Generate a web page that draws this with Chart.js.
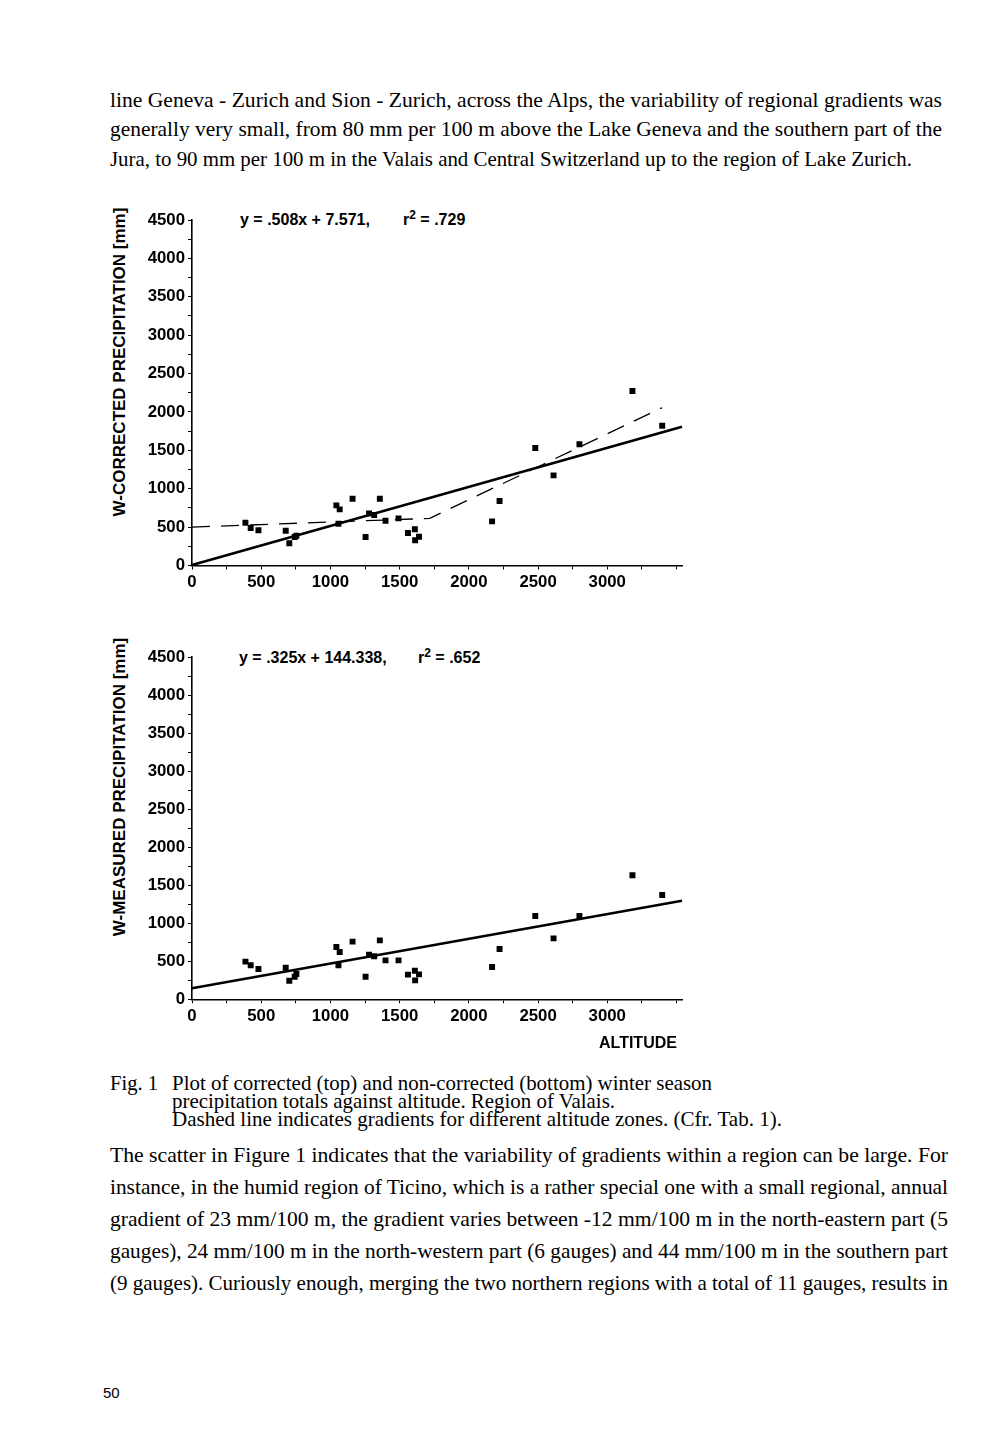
<!DOCTYPE html>
<html>
<head>
<meta charset="utf-8">
<script src="https://cdn.jsdelivr.net/npm/chart.js@4.4.1/dist/chart.umd.min.js"></script>
<style>
    html, body { margin: 0; padding: 0; background: #fff; }
    body { width: 1000px; height: 1453px; position: relative; overflow: hidden; color: #000; }
    .t { position: absolute; white-space: nowrap; font-family: "Liberation Serif", "Times New Roman", serif; font-size: 22px; line-height: 24px; transform-origin: 0 50%; }
    .s { position: absolute; white-space: nowrap; font-family: "Liberation Sans", Arial, sans-serif; font-size: 16px; line-height: 20px; font-weight: bold; }
    .ytitle { position: absolute; white-space: nowrap; font-family: "Liberation Sans", Arial, sans-serif; font-size: 17px; line-height: 20px; font-weight: bold; transform: translate(-50%, -50%) rotate(-90deg); }
    .sup { position: relative; top: -6px; font-size: 12px; }
    canvas { position: absolute; }
</style>
</head>
<body>

<div class="t" data-w="832" style="left:110px; top:88px">line Geneva - Zurich and Sion - Zurich, across the Alps, the variability of regional gradients was</div>
<div class="t" data-w="832" style="left:110px; top:117px">generally very small, from 80 mm per 100 m above the Lake Geneva and the southern part of the</div>
<div class="t" data-w="802" style="left:110px; top:147px">Jura, to 90 mm per 100 m in the Valais and Central Switzerland up to the region of Lake Zurich.</div>

<div class="ytitle" style="left:120px; top:362px">W-CORRECTED PRECIPITATION [mm]</div>
<div class="s" style="left:240px; top:210px">y = .508x + 7.571,</div>
<div class="s" style="left:403px; top:210px">r<span class="sup">2</span> = .729</div>
<canvas id="chartTop" width="600" height="420" style="left:100px; top:190px"></canvas>

<div class="ytitle" style="left:120px; top:787px">W-MEASURED PRECIPITATION [mm]</div>
<div class="s" style="left:239px; top:648px">y = .325x + 144.338,</div>
<div class="s" style="left:418px; top:648px">r<span class="sup">2</span> = .652</div>
<canvas id="chartBottom" width="600" height="420" style="left:100px; top:627px"></canvas>
<div class="s" style="left:599px; top:1033px">ALTITUDE</div>

<div class="t" data-w="48" style="left:110px; top:1071px">Fig. 1</div>
<div class="t" data-w="540" style="left:172px; top:1071px">Plot of corrected (top) and non-corrected (bottom) winter season</div>
<div class="t" data-w="443" style="left:172px; top:1089px">precipitation totals against altitude. Region of Valais.</div>
<div class="t" data-w="610" style="left:172px; top:1107px">Dashed line indicates gradients for different altitude zones. (Cfr. Tab. 1).</div>

<div class="t" data-w="838" style="left:110px; top:1143px">The scatter in Figure 1 indicates that the variability of gradients within a region can be large. For</div>
<div class="t" data-w="838" style="left:110px; top:1175px">instance, in the humid region of Ticino, which is a rather special one with a small regional, annual</div>
<div class="t" data-w="838" style="left:110px; top:1207px">gradient of 23 mm/100 m, the gradient varies between -12 mm/100 m in the north-eastern part (5</div>
<div class="t" data-w="838" style="left:110px; top:1239px">gauges), 24 mm/100 m in the north-western part (6 gauges) and 44 mm/100 m in the southern part</div>
<div class="t" data-w="838" style="left:110px; top:1271px">(9 gauges). Curiously enough, merging the two northern regions with a total of 11 gauges, results in</div>

<div class="s" style="left:103px; top:1383px; font-size:15px; font-weight:normal">50</div>

<script>
// gauge altitudes (m), shared by both plots
const altitude = [386, 424, 480, 677, 703, 742, 754, 1043, 1067, 1058, 1160, 1254, 1279, 1316,
    1357, 1398, 1492, 1560, 1610, 1612, 1640, 2168, 2222, 2480, 2612, 2799, 3182, 3397]

// winter precipitation (mm)
const correctedPrecip = [558, 488, 458, 453, 289, 371, 388, 783, 731, 545, 870, 371, 679, 658,
    870, 584, 614, 423, 471, 328, 375, 575, 840, 1530, 1174, 1578, 2272, 1821]
const measuredPrecip = [495, 447, 398, 416, 245, 297, 333, 688, 622, 447, 758, 297, 587, 565,
    775, 512, 512, 324, 376, 249, 328, 425, 661, 1095, 801, 1095, 1630, 1371]

// dashed line: gradients by altitude zone (top plot only)
const zoneAltitude = [0, 1717, 3396]
const zonePrecip = [500, 614, 2055]

// regression lines [slope, intercept]
const fitCorrected = [0.508, 7.571]
const fitMeasured = [0.325, 144.338]

const xTickLabels = [0, 500, 1000, 1500, 2000, 2500, 3000]
const yTickLabels = [0, 500, 1000, 1500, 2000, 2500, 3000, 3500, 4000, 4500]
const tickStep = 250
const xMax = 3540
const yMax = 4500

// squeeze each printed line to the width it has on the page (the scan's Times is narrow)
document.querySelectorAll('[data-w]').forEach((el) => {
    const target = +el.dataset.w
    const width = el.getBoundingClientRect().width
    el.style.transform = 'scaleX(' + (target / width) + ')'
})

Chart.defaults.font.family = '"Liberation Sans", Arial, sans-serif'
Chart.defaults.color = '#000'

function stepTicks(max) {
    return (scale) => {
        const ticks = []
        for (let v = 0; v <= max; v += tickStep) ticks.push({value: v})
        scale.ticks = ticks
    }
}

function axis(max, labels, fit) {
    return {
        type: 'linear',
        min: 0,
        max: max,
        afterBuildTicks: stepTicks(max),
        afterFit: fit,
        grid: {display: true, drawOnChartArea: false, drawTicks: true, tickLength: 4, color: '#000', lineWidth: 1},
        border: {display: true, color: '#000', width: 1.6},
        ticks: {
            autoSkip: false,
            maxRotation: 0,
            padding: 3,
            color: '#000',
            font: {size: 16.8, weight: 'bold'},
            callback: (v) => labels.includes(v) ? String(v) : '',
        },
    }
}

function renderChart(canvas, values, fit, xHeight, zones) {
    const datasets = [{
        data: altitude.map((a, i) => ({x: a, y: values[i]})),
        pointStyle: 'rect',
        pointRadius: 4.2,
        backgroundColor: '#000',
        borderWidth: 0,
        showLine: false,
    }, {
        data: [{x: 0, y: fit[1]}, {x: xMax, y: fit[0] * xMax + fit[1]}],
        showLine: true,
        borderColor: '#000',
        borderWidth: 2.6,
        pointRadius: 0,
        clip: false,
    }]

    if (zones) {
        datasets.push({
            data: zoneAltitude.map((a, i) => ({x: a, y: zonePrecip[i]})),
            showLine: true,
            borderColor: '#000',
            borderWidth: 1.3,
            borderDash: [18, 11],
            pointRadius: 0,
            clip: false,
        })
    }

    const xAxis = axis(xMax, xTickLabels, (s) => { s.height = xHeight })
    xAxis.ticks.padding = 3
    const yAxis = axis(yMax, yTickLabels, (s) => { s.width = 92 })

    return new Chart(canvas, {
        type: 'scatter',
        data: {datasets: datasets},
        options: {
            responsive: false,
            animation: false,
            events: [],
            layout: {padding: {left: 0, top: 30, right: 18, bottom: 0}},
            plugins: {legend: {display: false}, tooltip: {enabled: false}},
            scales: {x: xAxis, y: yAxis},
        },
    })
}

renderChart(document.getElementById('chartTop'), correctedPrecip, fitCorrected, 44.5, true)
renderChart(document.getElementById('chartBottom'), measuredPrecip, fitMeasured, 47.7, false)
</script>
</body>
</html>
